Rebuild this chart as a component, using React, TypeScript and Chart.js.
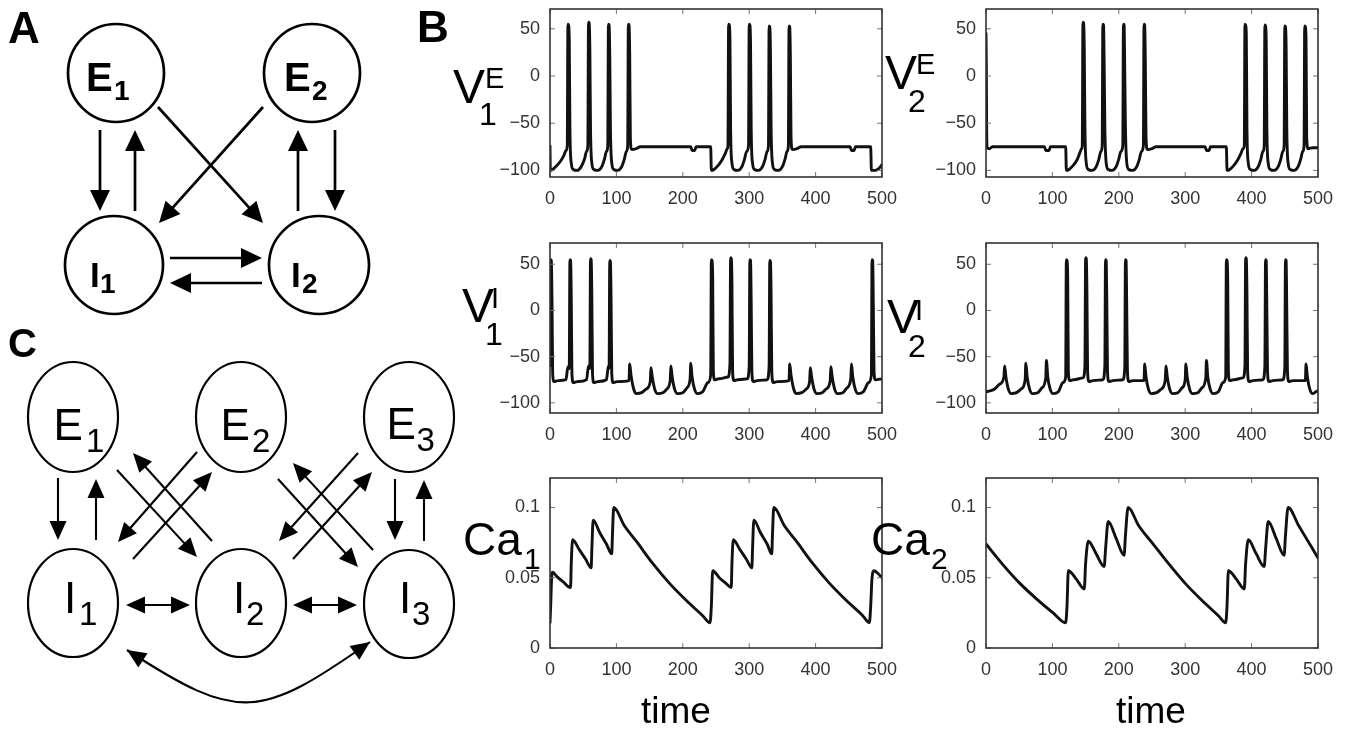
import React, { useEffect, useRef } from "react";
import { Chart, registerables } from "chart.js";

Chart.register(...registerables);

type Pt = [number, number];

// ---------- tick labels ----------
const TIME_TICKS = [0, 100, 200, 300, 400, 500];
const V_TICKS = [-100, -50, 0, 50];
const CA_TICKS = [0, 0.05, 0.1];
const V_RANGE_ROW1 = [-107, 71];
const V_RANGE_ROW2 = [-111, 73];
const CA_RANGE = [0, 0.121];

// ---------- series (time, value) ----------
const V1E: Pt[] = [
  [0, -74], [0.5, -100], [4, -99], [10, -95], [16, -90], [21, -84], [24, -79], [26, -74],
  [27, 55], [28, 54], [29, 38], [30, -55], [32, -92], [35, -99], [41, -100], [47, -96], [52, -88], [55, -80], [57, -74],
  [58, 57], [59, 56], [60, 28], [61, -55], [63, -92], [66, -99], [72, -100], [78, -96], [82, -88], [85, -80], [87, -74],
  [88, 55], [89, 54], [90, 22], [91, -55], [93, -92], [96, -99], [102, -100], [108, -96], [112, -88], [115, -80], [117, -74],
  [118, 55], [119, 54], [120, 25], [121, -65], [123, -78], [130, -77], [136, -75],
  [212, -75], [214, -79], [218, -79], [220, -75], [242, -75], [243, -100], [247, -99], [253, -95], [259, -89], [264, -82], [267, -77], [268, -74],
  [269, 55], [270, 54], [271, 40], [272, -55], [274, -92], [277, -99], [283, -100], [289, -96], [293, -88], [296, -80], [299, -74],
  [300, 55], [301, 54], [302, 35], [303, -55], [305, -92], [308, -99], [314, -100], [320, -96], [324, -88], [327, -80], [329, -74],
  [330, 53], [331, 52], [332, 25], [333, -55], [335, -92], [338, -99], [344, -100], [350, -96], [354, -88], [357, -80], [359, -74],
  [360, 53], [361, 52], [362, 20], [363, -65], [365, -78], [372, -77], [378, -75],
  [452, -75], [454, -79], [458, -79], [460, -75], [483, -75], [484, -100], [489, -100], [495, -98], [500, -94],
];

const V2E: Pt[] = [
  [0, 45], [0.5, 10], [1, -60], [2, -76], [5, -77], [10, -75],
  [88, -75], [90, -79], [95, -79], [97, -75], [120, -75], [121, -100], [125, -99], [131, -95], [137, -89], [141, -82], [144, -77], [145, -74],
  [146, 57], [147, 56], [148, 28], [149, -55], [151, -92], [154, -99], [160, -100], [166, -96], [170, -88], [173, -80], [175, -74],
  [176, 55], [177, 54], [178, 10], [179, -55], [181, -92], [184, -99], [190, -100], [196, -96], [200, -88], [203, -80], [206, -74],
  [207, 55], [208, 54], [209, 2], [210, -55], [212, -92], [215, -99], [221, -100], [227, -96], [231, -88], [234, -80], [237, -74],
  [238, 55], [239, 54], [240, 10], [241, -65], [243, -78], [250, -77], [256, -75],
  [330, -75], [332, -79], [336, -79], [338, -75], [362, -75], [363, -100], [367, -99], [373, -95], [379, -89], [384, -82], [387, -77], [389, -74],
  [390, 55], [391, 54], [392, 45], [393, -55], [395, -92], [398, -99], [404, -100], [410, -96], [414, -88], [417, -80], [419, -74],
  [420, 54], [421, 53], [422, 38], [423, -55], [425, -92], [428, -99], [434, -100], [440, -96], [444, -88], [447, -80], [449, -74],
  [450, 53], [451, 52], [452, 30], [453, -55], [455, -92], [458, -99], [464, -100], [470, -96], [474, -88], [477, -80], [479, -74],
  [480, 53], [481, 52], [482, 38], [483, -65], [485, -77], [492, -76], [500, -76],
];

const V1I: Pt[] = [
  [0, -60], [1, 55], [2, 54], [3, 10], [4, -68], [6, -77], [12, -76], [24, -75], [27, -61], [29, -63],
  [30, 55], [31, 54], [32, 15], [33, -68], [35, -78], [41, -77], [55, -75], [58, -60], [60, -63],
  [61, 56], [62, 55], [63, 15], [64, -68], [66, -78], [72, -77], [85, -75], [88, -60], [89, -63],
  [90, 54], [91, 53], [92, 10], [93, -68], [95, -78], [101, -77], [119, -76],
  [120, -58], [122, -70], [126, -85], [130, -90], [138, -89], [145, -85], [151, -77],
  [152, -62], [154, -72], [158, -86], [162, -90], [170, -89], [176, -85], [181, -76],
  [182, -60], [184, -72], [188, -86], [192, -90], [200, -89], [206, -84], [211, -74],
  [212, -57], [214, -72], [218, -86], [222, -90], [230, -88], [238, -78], [242, -70],
  [243, 55], [244, 54], [245, 35], [246, -66], [248, -75], [254, -74], [268, -72], [271, -58],
  [272, 57], [273, 56], [274, 30], [275, -66], [277, -76], [283, -75], [297, -74], [300, -60],
  [301, 55], [302, 54], [303, 10], [304, -66], [306, -77], [312, -76], [327, -75], [330, -60],
  [331, 54], [332, 53], [333, 15], [334, -66], [336, -78], [342, -77], [360, -76],
  [361, -58], [363, -70], [367, -85], [371, -90], [379, -89], [386, -85], [391, -77],
  [392, -62], [394, -72], [398, -86], [402, -90], [410, -89], [416, -85], [422, -76],
  [423, -61], [425, -72], [429, -86], [433, -90], [441, -89], [447, -84], [453, -74],
  [454, -58], [456, -72], [460, -86], [464, -90], [472, -88], [480, -78], [484, -70],
  [485, 55], [486, 54], [487, 0], [488, -66], [490, -75], [500, -74],
];

const V2I: Pt[] = [
  [0, -88], [6, -87], [13, -85], [20, -80], [27, -72],
  [28, -60], [30, -72], [34, -86], [38, -90], [46, -89], [53, -85], [59, -75],
  [60, -57], [62, -72], [66, -86], [70, -90], [78, -89], [84, -84], [90, -73],
  [91, -54], [93, -72], [97, -86], [101, -90], [109, -88], [116, -78], [120, -72],
  [121, 55], [122, 54], [123, 38], [124, -66], [126, -76], [132, -75], [146, -73], [149, -60],
  [150, 57], [151, 56], [152, 20], [153, -66], [155, -77], [161, -76], [176, -75], [179, -60],
  [180, 55], [181, 54], [182, 5], [183, -66], [185, -77], [191, -76], [206, -75], [209, -62],
  [210, 55], [211, 54], [212, 0], [213, -66], [215, -77], [221, -76], [238, -76],
  [239, -58], [241, -72], [245, -86], [249, -90], [257, -89], [264, -85], [270, -75],
  [271, -60], [273, -72], [277, -86], [281, -90], [289, -89], [295, -84], [300, -75],
  [301, -58], [303, -72], [307, -86], [311, -90], [319, -89], [325, -84], [331, -73],
  [332, -54], [334, -72], [338, -86], [342, -90], [350, -88], [357, -78], [361, -72],
  [362, 55], [363, 54], [364, 35], [365, -66], [367, -76], [373, -75], [387, -73], [390, -60],
  [391, 57], [392, 56], [393, 18], [394, -66], [396, -77], [402, -76], [417, -75], [420, -60],
  [421, 55], [422, 54], [423, 0], [424, -66], [426, -77], [432, -76], [447, -75], [450, -62],
  [451, 55], [452, 54], [453, 0], [454, -66], [456, -77], [462, -76], [481, -76],
  [482, -58], [484, -72], [488, -86], [492, -90], [497, -88], [500, -87],
];

const CA1: Pt[] = [
  [0, 0.018], [1, 0.03], [2.5, 0.05], [4, 0.054], [10, 0.051], [20, 0.047], [31, 0.043],
  [32, 0.06], [34, 0.077], [44, 0.07], [54, 0.063], [62, 0.057],
  [63, 0.07], [65, 0.091], [75, 0.082], [85, 0.074], [93, 0.067],
  [94, 0.08], [96, 0.1], [112, 0.087], [130, 0.076], [155, 0.06], [180, 0.046], [205, 0.034], [230, 0.023], [241, 0.018],
  [243, 0.03], [245, 0.055], [255, 0.05], [265, 0.046], [273, 0.043],
  [274, 0.06], [276, 0.077], [286, 0.07], [296, 0.063], [304, 0.057],
  [305, 0.07], [307, 0.091], [317, 0.082], [327, 0.074], [334, 0.067],
  [335, 0.08], [337, 0.1], [353, 0.087], [371, 0.076], [396, 0.06], [421, 0.046], [446, 0.034], [471, 0.023], [481, 0.018],
  [483, 0.03], [485, 0.05], [488, 0.055], [494, 0.053], [500, 0.05],
];

const CA2: Pt[] = [
  [0, 0.074], [26, 0.059], [51, 0.046], [76, 0.035], [101, 0.025], [120, 0.018],
  [122, 0.03], [124, 0.055], [136, 0.049], [148, 0.042],
  [150, 0.06], [154, 0.076], [166, 0.067], [178, 0.058],
  [180, 0.07], [184, 0.09], [196, 0.078], [208, 0.066],
  [210, 0.08], [214, 0.1], [230, 0.087], [250, 0.075], [275, 0.06], [300, 0.046], [325, 0.034], [350, 0.023], [361, 0.018],
  [363, 0.03], [365, 0.055], [377, 0.049], [389, 0.042],
  [391, 0.06], [395, 0.077], [407, 0.067], [419, 0.058],
  [421, 0.07], [425, 0.09], [437, 0.078], [449, 0.066],
  [451, 0.08], [455, 0.1], [471, 0.087], [490, 0.072], [500, 0.064],
];

// ---------- layout (pixels on the page) ----------
const PAGE_W = 1349;
const PAGE_H = 733;
const COLS = [
  { l: 550, r: 882 },
  { l: 986, r: 1318 },
];
const ROWS = [
  { t: 9, b: 177 },
  { t: 243, b: 413 },
  { t: 478, b: 648 },
];
const FONT = '"Liberation Sans", Arial, Helvetica, sans-serif';

// network diagram geometry (page pixels)
const NODES = [
  // panel A
  { cx: 116, cy: 73, rx: 48, ry: 49, lw: 2.7 },
  { cx: 312, cy: 73, rx: 48, ry: 49, lw: 2.7 },
  { cx: 114, cy: 265, rx: 49, ry: 49, lw: 2.7 },
  { cx: 319, cy: 265, rx: 50, ry: 49, lw: 2.7 },
  // panel C
  { cx: 73, cy: 417, rx: 45, ry: 55, lw: 2.2 },
  { cx: 241, cy: 417, rx: 45, ry: 55, lw: 2.2 },
  { cx: 409, cy: 417, rx: 45, ry: 55, lw: 2.2 },
  { cx: 73, cy: 603, rx: 45, ry: 54, lw: 2.2 },
  { cx: 241, cy: 603, rx: 45, ry: 54, lw: 2.2 },
  { cx: 409, cy: 604, rx: 45, ry: 54, lw: 2.2 },
];

const ARROWS = [
  // panel A
  { x1: 100, y1: 130, x2: 100, y2: 211, both: false, lw: 2.7, hl: 21, hw: 20 },
  { x1: 135, y1: 211, x2: 135, y2: 130, both: false, lw: 2.7, hl: 21, hw: 20 },
  { x1: 158, y1: 107, x2: 263, y2: 223, both: false, lw: 2.7, hl: 21, hw: 20 },
  { x1: 263, y1: 107, x2: 159, y2: 223, both: false, lw: 2.7, hl: 21, hw: 20 },
  { x1: 298, y1: 211, x2: 298, y2: 130, both: false, lw: 2.7, hl: 21, hw: 20 },
  { x1: 335, y1: 130, x2: 335, y2: 211, both: false, lw: 2.7, hl: 21, hw: 20 },
  { x1: 170, y1: 258, x2: 262, y2: 258, both: false, lw: 2.7, hl: 21, hw: 20 },
  { x1: 262, y1: 283, x2: 170, y2: 283, both: false, lw: 2.7, hl: 21, hw: 20 },
  // panel C
  { x1: 58, y1: 478, x2: 58, y2: 540, both: false, lw: 2.1, hl: 19, hw: 17 },
  { x1: 96, y1: 540, x2: 96, y2: 479, both: false, lw: 2.1, hl: 19, hw: 17 },
  { x1: 395, y1: 479, x2: 395, y2: 540, both: false, lw: 2.1, hl: 19, hw: 17 },
  { x1: 424, y1: 541, x2: 424, y2: 480, both: false, lw: 2.1, hl: 19, hw: 17 },
  { x1: 117, y1: 470, x2: 197, y2: 557, both: false, lw: 2.1, hl: 19, hw: 17 },
  { x1: 212, y1: 541, x2: 133, y2: 453, both: false, lw: 2.1, hl: 19, hw: 17 },
  { x1: 197, y1: 452, x2: 118, y2: 542, both: false, lw: 2.1, hl: 19, hw: 17 },
  { x1: 133, y1: 559, x2: 212, y2: 472, both: false, lw: 2.1, hl: 19, hw: 17 },
  { x1: 278, y1: 479, x2: 358, y2: 567, both: false, lw: 2.1, hl: 19, hw: 17 },
  { x1: 373, y1: 550, x2: 293, y2: 463, both: false, lw: 2.1, hl: 19, hw: 17 },
  { x1: 358, y1: 453, x2: 279, y2: 541, both: false, lw: 2.1, hl: 19, hw: 17 },
  { x1: 293, y1: 559, x2: 372, y2: 472, both: false, lw: 2.1, hl: 19, hw: 17 },
  { x1: 126, y1: 605, x2: 190, y2: 605, both: true, lw: 2.1, hl: 19, hw: 17 },
  { x1: 293, y1: 605, x2: 357, y2: 605, both: true, lw: 2.1, hl: 19, hw: 17 },
];

const CURVE = { p0: [127, 650], p1: [239, 723], p2: [260, 719], p3: [370, 642], lw: 2.1, hl: 19, hw: 17 };

const LABELS = [
  { t: "A", x: 8, y: 43, s: 44, w: "bold" },
  { t: "B", x: 417, y: 42, s: 44, w: "bold" },
  { t: "C", x: 8, y: 357, s: 40, w: "bold" },
  { t: "E", x: 86, y: 91, s: 40, w: "bold" }, { t: "1", x: 114, y: 100, s: 28, w: "bold" },
  { t: "E", x: 284, y: 91, s: 40, w: "bold" }, { t: "2", x: 312, y: 100, s: 28, w: "bold" },
  { t: "I", x: 90, y: 287, s: 35, w: "bold" }, { t: "1", x: 100, y: 293, s: 28, w: "bold" },
  { t: "I", x: 291, y: 287, s: 35, w: "bold" }, { t: "2", x: 302, y: 293, s: 28, w: "bold" },
  { t: "E", x: 53.5, y: 440, s: 44, w: "normal" }, { t: "1", x: 86, y: 452, s: 33, w: "normal" },
  { t: "E", x: 220.5, y: 440, s: 44, w: "normal" }, { t: "2", x: 252, y: 452, s: 33, w: "normal" },
  { t: "E", x: 386.5, y: 439, s: 44, w: "normal" }, { t: "3", x: 416.5, y: 451, s: 33, w: "normal" },
  { t: "I", x: 64, y: 613, s: 44, w: "normal" }, { t: "1", x: 79, y: 625, s: 33, w: "normal" },
  { t: "I", x: 233, y: 613, s: 44, w: "normal" }, { t: "2", x: 246, y: 625, s: 33, w: "normal" },
  { t: "I", x: 399, y: 613, s: 44, w: "normal" }, { t: "3", x: 412, y: 625, s: 33, w: "normal" },
  { t: "V", x: 453, y: 103, s: 48, w: "normal" }, { t: "E", x: 485, y: 88, s: 29, w: "normal" }, { t: "1", x: 479, y: 125, s: 32, w: "normal" },
  { t: "V", x: 885, y: 89, s: 48, w: "normal" }, { t: "E", x: 916, y: 74, s: 29, w: "normal" }, { t: "2", x: 908, y: 112, s: 32, w: "normal" },
  { t: "V", x: 462, y: 322, s: 48, w: "normal" }, { t: "I", x: 491, y: 308, s: 29, w: "normal" }, { t: "1", x: 485, y: 345, s: 32, w: "normal" },
  { t: "V", x: 887, y: 333, s: 48, w: "normal" }, { t: "I", x: 915, y: 320, s: 29, w: "normal" }, { t: "2", x: 908, y: 357, s: 32, w: "normal" },
  { t: "Ca", x: 463, y: 555, s: 46, w: "normal" }, { t: "1", x: 524, y: 569, s: 30, w: "normal" },
  { t: "Ca", x: 871, y: 555, s: 46, w: "normal" }, { t: "2", x: 931, y: 569, s: 30, w: "normal" },
  { t: "time", x: 641, y: 723, s: 37, w: "normal" },
  { t: "time", x: 1116, y: 723, s: 37, w: "normal" },
];

// ---------- plugins ----------
const boxPlugin = {
  id: "matlabBox",
  afterDatasetsDraw(chart: any) {
    const { ctx, chartArea: a, scales } = chart;
    ctx.save();
    ctx.strokeStyle = "#777";
    ctx.lineWidth = 1;
    const tl = 5;
    ctx.beginPath();
    for (const t of scales.x.ticks) {
      const px = scales.x.getPixelForValue(t.value);
      ctx.moveTo(px, a.top);
      ctx.lineTo(px, a.top + tl);
      ctx.moveTo(px, a.bottom);
      ctx.lineTo(px, a.bottom - tl);
    }
    for (const t of scales.y.ticks) {
      const py = scales.y.getPixelForValue(t.value);
      ctx.moveTo(a.left, py);
      ctx.lineTo(a.left + tl, py);
      ctx.moveTo(a.right, py);
      ctx.lineTo(a.right - tl, py);
    }
    ctx.stroke();
    ctx.strokeStyle = "#333";
    ctx.lineWidth = 1.6;
    ctx.strokeRect(a.left, a.top, a.right - a.left, a.bottom - a.top);
    ctx.restore();
  },
};

function head(ctx: CanvasRenderingContext2D, tx: number, ty: number, dx: number, dy: number, len: number, w: number) {
  const m = Math.hypot(dx, dy);
  const ux = dx / m;
  const uy = dy / m;
  const bx = tx - ux * len;
  const by = ty - uy * len;
  ctx.beginPath();
  ctx.moveTo(tx, ty);
  ctx.lineTo(bx - (uy * w) / 2, by + (ux * w) / 2);
  ctx.lineTo(bx + (uy * w) / 2, by - (ux * w) / 2);
  ctx.closePath();
  ctx.fill();
}

const diagramPlugin = {
  id: "diagram",
  afterDraw(chart: any) {
    const { ctx, scales } = chart;
    const X = (v: number) => scales.x.getPixelForValue(v);
    const Y = (v: number) => scales.y.getPixelForValue(v);
    ctx.save();
    ctx.strokeStyle = "#000";
    ctx.fillStyle = "#000";
    for (const n of NODES) {
      ctx.lineWidth = n.lw;
      ctx.beginPath();
      ctx.ellipse(X(n.cx), Y(n.cy), Math.abs(X(n.cx + n.rx) - X(n.cx)), Math.abs(Y(n.cy + n.ry) - Y(n.cy)), 0, 0, Math.PI * 2);
      ctx.stroke();
    }
    ctx.lineCap = "butt";
    for (const a of ARROWS) {
      const x1 = X(a.x1), y1 = Y(a.y1), x2 = X(a.x2), y2 = Y(a.y2);
      const dx = x2 - x1, dy = y2 - y1;
      const m = Math.hypot(dx, dy);
      const ux = dx / m, uy = dy / m;
      const cut = a.hl * 0.6;
      ctx.lineWidth = a.lw;
      ctx.beginPath();
      ctx.moveTo(a.both ? x1 + ux * cut : x1, a.both ? y1 + uy * cut : y1);
      ctx.lineTo(x2 - ux * cut, y2 - uy * cut);
      ctx.stroke();
      head(ctx, x2, y2, dx, dy, a.hl, a.hw);
      if (a.both) head(ctx, x1, y1, -dx, -dy, a.hl, a.hw);
    }
    const c = CURVE;
    const P = [c.p0, c.p1, c.p2, c.p3].map((p) => [X(p[0]), Y(p[1])]);
    ctx.lineWidth = c.lw;
    ctx.beginPath();
    ctx.moveTo(P[0][0], P[0][1]);
    ctx.bezierCurveTo(P[1][0], P[1][1], P[2][0], P[2][1], P[3][0], P[3][1]);
    ctx.stroke();
    head(ctx, P[0][0], P[0][1], P[0][0] - P[1][0], P[0][1] - P[1][1], c.hl, c.hw);
    head(ctx, P[3][0], P[3][1], P[3][0] - P[2][0], P[3][1] - P[2][1], c.hl, c.hw);

    ctx.textAlign = "left";
    ctx.textBaseline = "alphabetic";
    for (const l of LABELS) {
      ctx.font = `${l.w} ${l.s}px ${FONT}`;
      ctx.fillStyle = "#000";
      ctx.fillText(l.t, X(l.x), Y(l.y));
    }
    ctx.restore();
  },
};

// ---------- components ----------
const fmtTick = (v: any) => {
  const n = Number(v);
  return n < 0 ? "\u2212" + String(Math.abs(n)) : String(n);
};

function TracePlot(props: { data: Pt[]; col: number; row: number; range: number[]; yTicks: number[] }) {
  const ref = useRef<HTMLCanvasElement | null>(null);
  const area = { ...COLS[props.col], ...ROWS[props.row] };
  const yW = 60;
  const xH = 30;
  const padR = 20;
  const left = area.l - yW;
  const top = Math.max(0, area.t - 14);
  const padT = area.t - top;
  const width = area.r - left + padR;
  const height = area.b - top + xH;

  useEffect(() => {
    if (!ref.current) return;
    const chart = new Chart(ref.current, {
      type: "line",
      data: {
        datasets: [
          {
            data: props.data.map(([x, y]) => ({ x, y })),
            borderColor: "#111",
            borderWidth: 2.9,
            pointRadius: 0,
            cubicInterpolationMode: "monotone",
            fill: false,
            borderJoinStyle: "round",
            borderCapStyle: "round",
          } as any,
        ],
      },
      options: {
        responsive: false,
        maintainAspectRatio: false,
        animation: false,
        devicePixelRatio: 1,
        events: [],
        layout: { padding: { top: padT, right: padR, left: 0, bottom: 0 } },
        plugins: { legend: { display: false }, tooltip: { enabled: false } },
        scales: {
          x: {
            type: "linear",
            min: 0,
            max: 500,
            grid: { display: false },
            border: { display: false },
            ticks: {
              autoSkip: false,
              maxRotation: 0,
              padding: 3,
              color: "#333",
              font: { family: FONT, size: 18 },
              callback: fmtTick,
            },
            afterBuildTicks: (s: any) => {
              s.ticks = TIME_TICKS.map((value) => ({ value }));
            },
            afterFit: (s: any) => {
              s.height = xH;
              s.paddingLeft = 0;
              s.paddingRight = 0;
            },
          },
          y: {
            type: "linear",
            min: props.range[0],
            max: props.range[1],
            grid: { display: false },
            border: { display: false },
            ticks: {
              autoSkip: false,
              padding: 2,
              color: "#333",
              font: { family: FONT, size: 18 },
              callback: fmtTick,
            },
            afterBuildTicks: (s: any) => {
              s.ticks = props.yTicks.map((value) => ({ value }));
            },
            afterFit: (s: any) => {
              s.width = yW;
              s.paddingTop = 0;
              s.paddingBottom = 0;
            },
          },
        } as any,
      },
      plugins: [boxPlugin],
    } as any);
    return () => chart.destroy();
  }, []);

  return (
    <canvas
      ref={ref}
      width={width}
      height={height}
      style={{ position: "absolute", left, top, width, height }}
    />
  );
}

function Diagram() {
  const ref = useRef<HTMLCanvasElement | null>(null);
  useEffect(() => {
    if (!ref.current) return;
    const chart = new Chart(ref.current, {
      type: "scatter",
      data: { datasets: [] },
      options: {
        responsive: false,
        maintainAspectRatio: false,
        animation: false,
        devicePixelRatio: 1,
        events: [],
        layout: { padding: 0 },
        plugins: { legend: { display: false }, tooltip: { enabled: false } },
        scales: {
          x: { type: "linear", display: false, min: 0, max: PAGE_W },
          y: { type: "linear", display: false, min: 0, max: PAGE_H, reverse: true },
        },
      },
      plugins: [diagramPlugin],
    } as any);
    return () => chart.destroy();
  }, []);
  return (
    <canvas
      ref={ref}
      width={PAGE_W}
      height={PAGE_H}
      style={{ position: "absolute", left: 0, top: 0, width: PAGE_W, height: PAGE_H, pointerEvents: "none" }}
    />
  );
}

export default function App() {
  return (
    <div style={{ position: "absolute", left: 0, top: 0, width: PAGE_W, height: PAGE_H, background: "#fff", overflow: "hidden" }}>
      <TracePlot data={V1E} col={0} row={0} range={V_RANGE_ROW1} yTicks={V_TICKS} />
      <TracePlot data={V2E} col={1} row={0} range={V_RANGE_ROW1} yTicks={V_TICKS} />
      <TracePlot data={V1I} col={0} row={1} range={V_RANGE_ROW2} yTicks={V_TICKS} />
      <TracePlot data={V2I} col={1} row={1} range={V_RANGE_ROW2} yTicks={V_TICKS} />
      <TracePlot data={CA1} col={0} row={2} range={CA_RANGE} yTicks={CA_TICKS} />
      <TracePlot data={CA2} col={1} row={2} range={CA_RANGE} yTicks={CA_TICKS} />
      <Diagram />
    </div>
  );
}
